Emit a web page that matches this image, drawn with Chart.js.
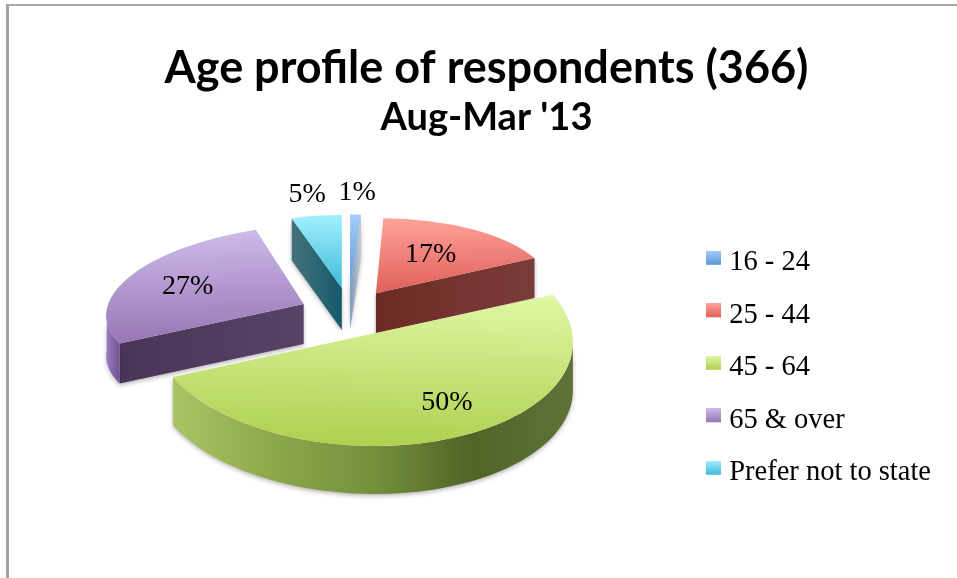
<!DOCTYPE html>
<html>
<head>
<meta charset="utf-8">
<title>Age profile of respondents</title>
<script src="https://cdn.jsdelivr.net/npm/chart.js@4"></script>
<style>
  html, body { margin: 0; padding: 0; background: #fff; overflow: hidden; }
  #frame { position: absolute; left: 6px; top: 4px; right: -4px; bottom: -4px; border-left: 3px solid #a3a3a3; border-top: 2px solid #a9a9a9; pointer-events: none; }
  canvas { display: block; }
</style>
</head>
<body>
<canvas id="agePie" width="957" height="578"></canvas>
<div id="frame"></div>
<script>
const categories = ['16 - 24', '25 - 44', '45 - 64', '65 & over', 'Prefer not to state'];
const shares = [1, 17, 50, 27, 5];

// look of the tilted pie, one entry per slice
const faceTop = ['#a6ccfb', '#ffa39b', '#e0f7a4', '#cfb9ea', '#a0f1ff'];
const faceBottom = ['#5a98d8', '#e0605a', '#afd050', '#9777b5', '#3fbbd8'];
const edgeColors = [['#7f97b8', '#c3ccd8'], ['#6d2a24', '#7b3d39'], ['#6b8a3a', '#6b8a3a'], ['#564366', '#483558'], ['#155b6a', '#44717c']];
const rimStops = [['#6a9ad0', '#6a9ad0'], ['#7b3d39', '#7b3d39'], ['#aac565', '#8ca84a', '#75903d', '#526426', '#5f7339'], ['#9a7cc0', '#6f5390'], ['#155b6a', '#155b6a']];
const explode = [65, 55, 35, 45, 65];
const nudgeX = [3, 0, 3, 0, 7];
const nudgeY = [0, -4, 0, -7, 0];
const radiusX = [175, 177, 210, 197, 162];
const radiusY = [73, 75, 110, 80, 73];
const shear = [0, 0.05, 0, -0.17, 0];
const skewY = [0, -0.02, 0.03, -0.03, 0];
const depth = [42, 40, 48, 40, 42];
const labelReach = [1.3, 0.6, 0.65, 0.65, 1.29];
const labelShiftX = [0, -3, 26, -2, -2];
const wallOrder = [4, 0, 3, 1, 2];

const centerX = 345;
const centerY = 320;
const tilt = 0.5;
const serif = '"Liberation Serif", serif';

// legend box with clear space under it, so it sits a little above the text middle
function swatch(top, bottom) {
    const c = document.createElement('canvas');
    c.width = 15;
    c.height = 24;
    const g = c.getContext('2d');
    const grad = g.createLinearGradient(0, 0, 0, 14);
    grad.addColorStop(0, top);
    grad.addColorStop(1, bottom);
    g.fillStyle = grad;
    g.fillRect(0, 0, 15, 14);
    return c;
}

function sliceView(el, i) {
    const mid = (el.startAngle + el.endAngle) / 2;
    const rim = el.outerRadius;
    const ax = centerX + Math.cos(mid) * explode[i] + nudgeX[i];
    const ay = centerY + Math.sin(mid) * explode[i] * tilt + nudgeY[i];
    const a = radiusX[i] / rim;
    const b = skewY[i] * a;
    const d = radiusY[i] / rim;
    const c = shear[i] * d;
    const at = function(angle, reach) {
        const u = rim * reach * Math.cos(angle);
        const w = rim * reach * Math.sin(angle);
        return { x: ax + a * u + c * w, y: ay + b * u + d * w };
    };
    return { el, mid, rim, ax, ay, at, matrix: [a, b, c, d, ax - a * el.x - c * el.y, ay - b * el.x - d * el.y] };
}

function fillPoly(ctx, pts, style) {
    ctx.beginPath();
    pts.forEach((p, n) => n ? ctx.lineTo(p.x, p.y) : ctx.moveTo(p.x, p.y));
    ctx.closePath();
    ctx.fillStyle = style;
    ctx.fill();
}

function drawEdge(ctx, v, i, angle, h) {
    const r = v.at(angle, 1);
    const g = ctx.createLinearGradient(v.ax, 0, r.x + 0.01, 0);
    g.addColorStop(0, edgeColors[i][0]);
    g.addColorStop(1, edgeColors[i][1]);
    fillPoly(ctx, [{ x: v.ax, y: v.ay }, r, { x: r.x, y: r.y + h }, { x: v.ax, y: v.ay + h }], g);
}

function drawWalls(ctx, v, i) {
    const el = v.el;
    const h = depth[i];
    ctx.save();
    ctx.shadowColor = 'rgba(0,0,0,0.28)';
    ctx.shadowBlur = 4;
    ctx.shadowOffsetY = 2;
    if (Math.sin(el.startAngle - Math.PI / 2) > 0.01) drawEdge(ctx, v, i, el.startAngle, h);
    if (Math.sin(el.endAngle + Math.PI / 2) > 0.01) drawEdge(ctx, v, i, el.endAngle, h);
    const from = Math.max(el.startAngle, 0);
    const to = Math.min(el.endAngle, Math.PI);
    if (to > from) {
        const top = [];
        for (let n = 0; n <= 60; n++) top.push(v.at(from + (to - from) * n / 60, 1));
        const low = top.map(p => ({ x: p.x, y: p.y + h })).reverse();
        const xs = top.map(p => p.x);
        const g = ctx.createLinearGradient(Math.min(...xs), 0, Math.max(...xs), 0);
        rimStops[i].forEach((s, n) => g.addColorStop(n / (rimStops[i].length - 1), s));
        fillPoly(ctx, top.concat(low), g);
    }
    ctx.restore();
}

const tiltedPie = {
    id: 'tiltedPie',
    beforeDatasetsDraw(chart) {
        const ctx = chart.ctx;
        const arcs = chart.getDatasetMeta(0).data;
        const views = arcs.map(sliceView);
        wallOrder.forEach(i => drawWalls(ctx, views[i], i));
        arcs.forEach((el, i) => {
            const v = views[i];
            // face gradient runs over the slice's own height, in pie space
            const ys = [el.y];
            for (let n = 0; n <= 30; n++) {
                ys.push(el.y + v.rim * Math.sin(el.startAngle + (el.endAngle - el.startAngle) * n / 30));
            }
            const g = ctx.createLinearGradient(0, Math.min(...ys), 0, Math.max(...ys));
            g.addColorStop(0, faceTop[i]);
            g.addColorStop(1, faceBottom[i]);
            el.options = Object.assign({}, el.options, { backgroundColor: g, borderWidth: 0 });
            el.draw = function(c) {
                c.save();
                c.transform(...v.matrix);
                Chart.ArcElement.prototype.draw.call(this, c);
                c.restore();
            };
        });
    },
    afterDatasetsDraw(chart) {
        const ctx = chart.ctx;
        chart.getDatasetMeta(0).data.forEach((el, i) => {
            const v = sliceView(el, i);
            const p = v.at(v.mid, labelReach[i]);
            ctx.save();
            ctx.font = '28px ' + serif;
            ctx.fillStyle = '#000';
            ctx.textAlign = 'center';
            ctx.textBaseline = 'middle';
            ctx.fillText(shares[i] + '%', p.x + labelShiftX[i], p.y);
            ctx.restore();
        });
    }
};

const chart = new Chart(document.getElementById('agePie').getContext('2d'), {
    type: 'pie',
    data: {
        labels: categories,
        datasets: [{
            data: shares,
            backgroundColor: faceBottom,
            borderWidth: 0,
            radius: 200,
            clip: false
        }]
    },
    plugins: [tiltedPie],
    options: {
        responsive: false,
        animation: false,
        layout: { padding: { left: 32, right: 16, top: 0, bottom: 0 } },
        plugins: {
            tooltip: { enabled: false },
            title: {
                display: true,
                text: 'Age profile of respondents (366)',
                color: '#000',
                font: { family: 'Lato', size: 45, weight: 'bold' },
                padding: { top: 41, bottom: 0 }
            },
            subtitle: {
                display: true,
                text: "Aug-Mar '13",
                color: '#000',
                font: { family: 'Lato', size: 38, weight: 'bold' },
                padding: { top: 0, bottom: 17 }
            },
            legend: {
                position: 'right',
                fullSize: false,
                labels: {
                    usePointStyle: true,
                    boxWidth: 2,
                    boxHeight: 14,
                    padding: 24,
                    color: '#000',
                    font: { family: 'Liberation Serif', size: 28.5 },
                    generateLabels: function() {
                        return categories.map((name, i) => ({
                            text: name,
                            index: i,
                            datasetIndex: 0,
                            fontColor: '#000',
                            pointStyle: swatch(faceTop[i], faceBottom[i])
                        }));
                    }
                }
            }
        }
    }
});
</script>
</body>
</html>
